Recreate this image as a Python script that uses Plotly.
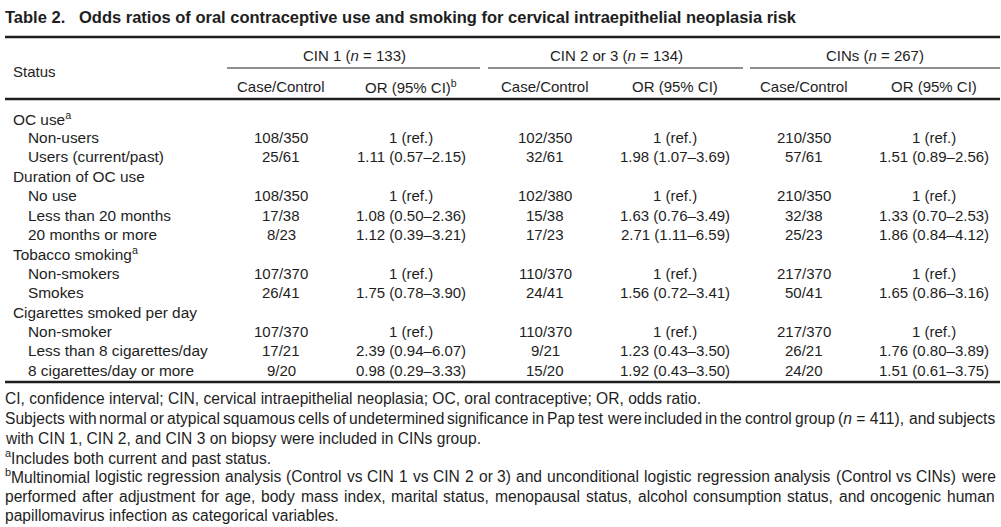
import re
import plotly.graph_objects as go

# tekst tabeli
title = "Table 2.   Odds ratios of oral contraceptive use and smoking for cervical intraepithelial neoplasia risk"
groups = ["CIN 1 (<i>n</i> = 133)", "CIN 2 or 3 (<i>n</i> = 134)", "CINs (<i>n</i> = 267)"]
subheads = ["Case/Control", "OR (95% CI)<sup>b</sup>", "Case/Control", "OR (95% CI)", "Case/Control", "OR (95% CI)"]

labels = ["OC use<sup>a</sup>", "Non-users", "Users (current/past)", "Duration of OC use", "No use",
          "Less than 20 months", "20 months or more", "Tobacco smoking<sup>a</sup>", "Non-smokers", "Smokes",
          "Cigarettes smoked per day", "Non-smoker", "Less than 8 cigarettes/day", "8 cigarettes/day or more"]
indent = [0, 1, 1, 0, 1, 1, 1, 0, 1, 1, 0, 1, 1, 1]

cin1_cc = ["", "108/350", "25/61", "", "108/350", "17/38", "8/23", "", "107/370", "26/41", "", "107/370", "17/21", "9/20"]
cin1_or = ["", "1 (ref.)", "1.11 (0.57–2.15)", "", "1 (ref.)", "1.08 (0.50–2.36)", "1.12 (0.39–3.21)", "",
           "1 (ref.)", "1.75 (0.78–3.90)", "", "1 (ref.)", "2.39 (0.94–6.07)", "0.98 (0.29–3.33)"]
cin23_cc = ["", "102/350", "32/61", "", "102/380", "15/38", "17/23", "", "110/370", "24/41", "", "110/370", "9/21", "15/20"]
cin23_or = ["", "1 (ref.)", "1.98 (1.07–3.69)", "", "1 (ref.)", "1.63 (0.76–3.49)", "2.71 (1.11–6.59)", "",
            "1 (ref.)", "1.56 (0.72–3.41)", "", "1 (ref.)", "1.23 (0.43–3.50)", "1.92 (0.43–3.50)"]
cins_cc = ["", "210/350", "57/61", "", "210/350", "32/38", "25/23", "", "217/370", "50/41", "", "217/370", "26/21", "24/20"]
cins_or = ["", "1 (ref.)", "1.51 (0.89–2.56)", "", "1 (ref.)", "1.33 (0.70–2.53)", "1.86 (0.84–4.12)", "",
           "1 (ref.)", "1.65 (0.86–3.16)", "", "1 (ref.)", "1.76 (0.80–3.89)", "1.51 (0.61–3.75)"]

footnotes = [
    "CI, confidence interval; CIN, cervical intraepithelial neoplasia; OC, oral contraceptive; OR, odds ratio.",
    "Subjects with normal or atypical squamous cells of undetermined significance in Pap test were included in the control group (<i>n</i> = 411), and subjects",
    "with CIN 1, CIN 2, and CIN 3 on biopsy were included in CINs group.",
    "<sup>a</sup>Includes both current and past status.",
    "<sup>b</sup>Multinomial logistic regression analysis (Control vs CIN 1 vs CIN 2 or 3) and unconditional logistic regression analysis (Control vs CINs) were",
    "performed after adjustment for age, body mass index, marital status, menopausal status, alcohol consumption status, and oncogenic human",
    "papillomavirus infection as categorical variables.",
]
justified = [False, True, False, False, True, True, False]

font = "Liberation Sans, Arial, sans-serif"
ink = '#1e1e1e'
W, H = 1001, 527

group_x = [354, 616, 875]
col_x = [281, 411, 545, 675, 804, 934]
row_y0, row_dy = 118, 19.4
foot_y = [398, 418, 438, 457, 476, 496, 515]

# szerokosci znakow Arial / Liberation Sans (na 1000 jednostek)
adv = {c: 556 for c in "abdeghnopqu0123456789"}
adv.update({c: 500 for c in "cksvxyzJ"})
adv.update({'f': 278, 't': 278, 'i': 222, 'j': 222, 'l': 222, 'm': 833, 'r': 333, 'w': 722, ' ': 278,
            ',': 278, '.': 278, ';': 278, ':': 278, '/': 278, '(': 333, ')': 333, '-': 333, '=': 584, '%': 889,
            '–': 556, 'I': 278, 'C': 722, 'N': 722, 'M': 833, 'O': 778, 'R': 722, 'P': 667, 'S': 667, 'T': 611})


def width(s, size):
    w = 0
    for part in re.split(r'(<sup>.*?</sup>)', s):
        k = 0.7 if part.startswith('<sup>') else 1.0
        part = re.sub(r'<[^>]+>', '', part)
        w += k * sum(adv.get(c, 556) for c in part)
    return w * size / 1000


fig = go.Figure()

ann = []


def txt(x, y, s, anchor='center', size=15, bold=False):
    ann.append(dict(x=x, y=y, xref='x', yref='y', text=f"<b>{s}</b>" if bold else s, showarrow=False,
                    xanchor=anchor, yanchor='middle', font=dict(family=font, size=size, color=ink)))


txt(3, 17, title, anchor='left', size=16.5, bold=True)
txt(11, 71, "Status", anchor='left')
for gx, g in zip(group_x, groups):
    txt(gx, 55, g)
for cx, s in zip(col_x, subheads):
    txt(cx, 86, s)

cols = [cin1_cc, cin1_or, cin23_cc, cin23_or, cins_cc, cins_or]
for i, lab in enumerate(labels):
    y = row_y0 + i * row_dy
    txt(11 + 15 * indent[i], y, lab, anchor='left', size=15.4)
    for cx, col in zip(col_x, cols):
        if col[i]:
            txt(cx, y, col[i])

fsize = 15.6
left, right = 3, 993
for fy, f, just in zip(foot_y, footnotes, justified):
    if not just:
        txt(left, fy, f, anchor='left', size=fsize)
        continue
    words = f.replace('<i>n</i> = ', '<i>n</i>\u00a0=\u00a0').split(' ')
    ws = [width(w.replace('\u00a0', ' '), fsize) for w in words]
    gap = (right - left - sum(ws)) / (len(words) - 1)
    x = left
    for w, ww in zip(words, ws):
        txt(x, fy, w, anchor='left', size=fsize)
        x += ww + gap

shapes = []
for y, w in [(37, 2.5), (99, 2.5), (382, 2.5)]:
    shapes.append(dict(type='line', x0=5, x1=1000, y0=y, y1=y, xref='x', yref='y', line=dict(color=ink, width=w)))
for x0, x1 in [(227, 480), (488, 743), (750, 1000)]:
    shapes.append(dict(type='line', x0=x0, x1=x1, y0=68, y1=68, xref='x', yref='y', line=dict(color=ink, width=1)))

fig.update_layout(width=W, height=H, margin=dict(l=0, r=0, t=0, b=0), plot_bgcolor='white',
                  paper_bgcolor='white', annotations=ann, shapes=shapes, showlegend=False)
fig.update_xaxes(range=[0, W], visible=False, fixedrange=True)
fig.update_yaxes(range=[H, 0], visible=False, fixedrange=True)

# bez domyslnego marginesu strony, zeby wykres zaczynal sie w (0, 0)
fig.write_html("out.html", config={'displayModeBar': False},
               post_script="document.body.style.margin='0';")
